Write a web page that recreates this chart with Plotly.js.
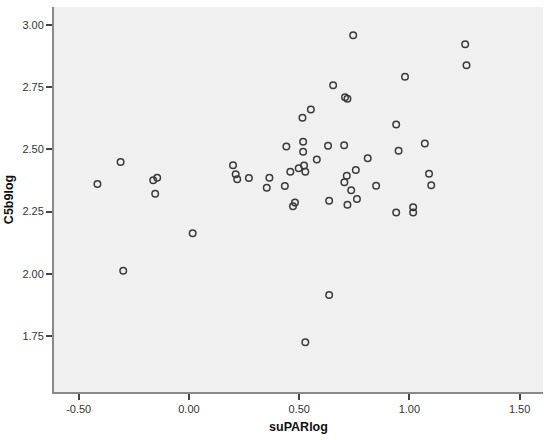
<!DOCTYPE html>
<html>
<head>
<meta charset="utf-8">
<script src="https://cdn.plot.ly/plotly-3.0.1.min.js"></script>
<style>html,body{margin:0;padding:0;background:#fff;}#chart{width:550px;height:440px;}</style>
</head>
<body>
<div id="chart"></div>
<script>
const suPARlog = [-0.415,-0.310,-0.162,-0.144,-0.153,-0.298,0.017,0.200,0.212,0.219,0.272,0.365,0.353,0.435,0.442,0.460,0.472,0.481,0.498,0.515,0.518,0.518,0.522,0.528,0.528,0.553,0.580,0.631,0.636,0.636,0.654,0.704,0.705,0.708,0.716,0.719,0.719,0.736,0.745,0.757,0.762,0.811,0.849,0.940,0.940,0.951,0.980,1.017,1.017,1.070,1.089,1.099,1.253,1.259];
const C5b9log = [2.361,2.449,2.376,2.386,2.322,2.012,2.163,2.436,2.400,2.380,2.385,2.386,2.346,2.353,2.511,2.410,2.271,2.286,2.424,2.627,2.531,2.490,2.435,2.410,1.725,2.660,2.459,2.514,2.293,1.915,2.758,2.516,2.368,2.709,2.394,2.703,2.277,2.336,2.958,2.417,2.301,2.464,2.354,2.600,2.246,2.494,2.792,2.267,2.246,2.524,2.402,2.356,2.922,2.838];
const xTicks = [-0.5,0,0.5,1.0,1.5];
const xTickText = ['-0.50','0.00','0.50','1.00','1.50'];
const yTicks = [1.75,2.0,2.25,2.5,2.75,3.0];
const yTickText = ['1.75','2.00','2.25','2.50','2.75','3.00'];

const trace = {
  x: suPARlog, y: C5b9log, type: 'scatter', mode: 'markers',
  marker: {symbol: 'circle-open', size: 6.5, color: '#3a3a3a', line: {width: 1.5, color: '#3a3a3a'}},
  hoverinfo: 'skip'
};
const axisCommon = {
  showgrid: false, zeroline: false, showline: true, linecolor: '#8a8a8a', linewidth: 2,
  ticks: 'outside', ticklen: 6, tickwidth: 2, tickcolor: '#444',
  tickfont: {family: 'Liberation Sans, Arial, sans-serif', size: 11, color: '#333'},
  tickmode: 'array'
};
const layout = {
  width: 550, height: 440,
  margin: {l: 54, r: 7, t: 7, b: 48},
  paper_bgcolor: '#ffffff', plot_bgcolor: '#f0f0f0',
  showlegend: false,
  xaxis: Object.assign({}, axisCommon, {
    range: [-0.612, 1.606], tickvals: xTicks, ticktext: xTickText,
    title: {text: 'suPARlog', font: {family: 'Liberation Sans, Arial, sans-serif', size: 12.5, color: '#111', weight: 'bold'}, standoff: 8}
  }),
  yaxis: Object.assign({}, axisCommon, {
    range: [1.525, 3.072], tickvals: yTicks, ticktext: yTickText,
    title: {text: 'C5b9log', font: {family: 'Liberation Sans, Arial, sans-serif', size: 12.5, color: '#111', weight: 'bold'}, standoff: 6}
  })
};
Plotly.newPlot('chart', [trace], layout, {displayModeBar: false, staticPlot: true});
</script>
</body>
</html>
